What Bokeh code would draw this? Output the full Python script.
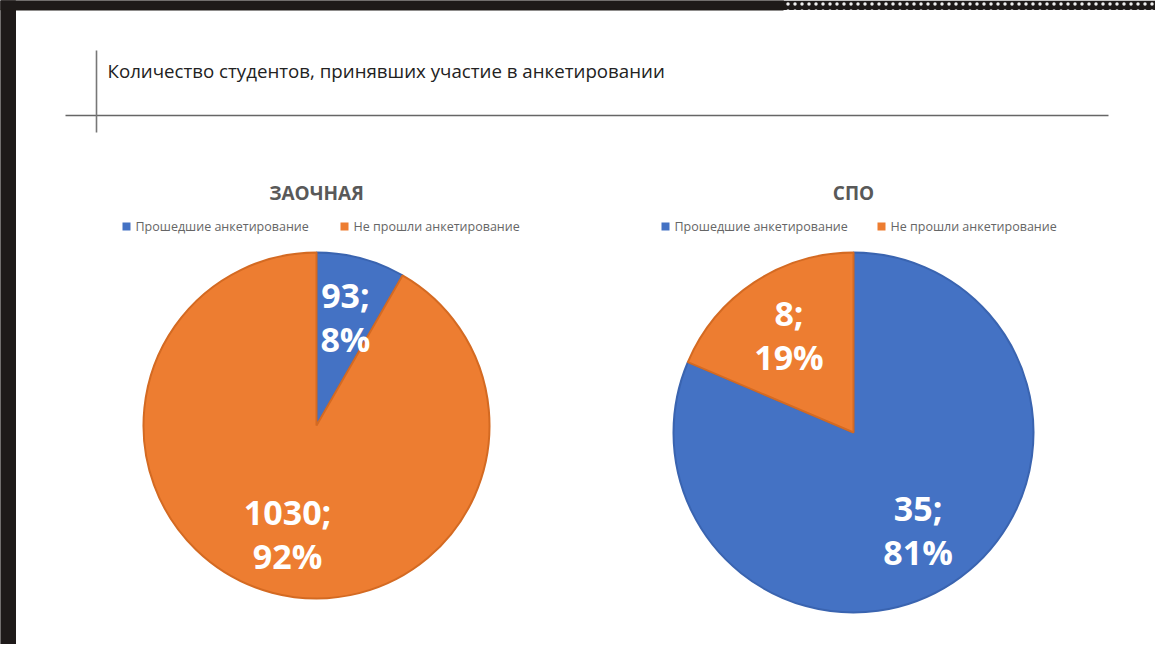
import numpy as np
from bokeh.plotting import figure
from bokeh.models import Range1d, ColumnDataSource
from bokeh.core.properties import value
from bokeh.embed import file_html
from bokeh.resources import INLINE

# ---- data ----
slide_title = "Количество студентов, принявших участие в анкетировании"
categories = ["Прошедшие анкетирование", "Не прошли анкетирование"]
chart_titles = ["ЗАОЧНАЯ", "СПО"]
zaochnaya_values = [93, 1030]
spo_values = [35, 8]
colors = ["#4472C4", "#ED7D31"]
edge_colors = ["#3A64B0", "#D46A22"]

W, H = 1155, 644
p = figure(width=W, height=H, x_range=Range1d(0, W), y_range=Range1d(0, H),
           output_backend="svg", toolbar_location=None, min_border=0)
p.axis.visible = False
p.grid.visible = False
p.outline_line_color = None
p.background_fill_color = "white"
p.border_fill_color = "white"

def Y(py):
    return H - py

# dark frame strips
p.quad(left=[0], right=[15], bottom=[Y(H)], top=[Y(0)], color="#1e1a19")
p.quad(left=[0], right=[783], bottom=[Y(9.5)], top=[Y(0)], color="#1e1a19")
p.quad(left=[783], right=[W], bottom=[Y(9.5)], top=[Y(0)], fill_color="#1e1a19",
       line_color=None, hatch_pattern="dot", hatch_color="#f0f0f0", hatch_scale=7,
       hatch_weight=3)

# slide header
p.segment(x0=[65], y0=[Y(115)], x1=[1108], y1=[Y(115)], line_color="#666666", line_width=1.6)
p.segment(x0=[96], y0=[Y(50)], x1=[96], y1=[Y(132)], line_color="#777777", line_width=1.6)
p.text(x=[107], y=[Y(70)], text=[slide_title], text_font=value("Open Sans"),
       text_font_size="18.7px", text_color="#222222", text_align="left", text_baseline="middle")

charts = [
    dict(values=zaochnaya_values, title=chart_titles[0], cx=316, cy=425, r=173,
         legend_x=[122, 340]),
    dict(values=spo_values, title=chart_titles[1], cx=853, cy=432, r=180,
         legend_x=[661, 877]),
]

for ch in charts:
    vals = np.array(ch["values"], dtype=float)
    frac = vals / vals.sum()
    cum = np.concatenate([[0], np.cumsum(frac)])
    start = np.pi / 2 - 2 * np.pi * cum[:-1]
    end = np.pi / 2 - 2 * np.pi * cum[1:]
    src = ColumnDataSource(dict(start=start, end=end, color=colors, edge=edge_colors))
    p.wedge(x=ch["cx"], y=Y(ch["cy"]), radius=ch["r"], start_angle="start", end_angle="end",
            direction="clock", fill_color="color", line_color="edge", line_width=2, source=src)
    # labels
    mid = (start + end) / 2
    d = 0.65 * ch["r"]
    lx = ch["cx"] + d * np.cos(mid)
    ly = Y(ch["cy"]) + d * np.sin(mid)
    pct = [f"{int(round(f * 100))}%" for f in frac]
    top_txt = [f"{int(v)};" for v in vals]
    p.text(x=lx, y=ly + 22, text=top_txt, text_font=value("Open Sans"), text_font_style="bold",
           text_font_size="34px", text_color="white", text_align="center", text_baseline="middle")
    p.text(x=lx, y=ly - 22, text=pct, text_font=value("Open Sans"), text_font_style="bold",
           text_font_size="34px", text_color="white", text_align="center", text_baseline="middle")
    # title
    p.text(x=[ch["cx"]], y=[Y(192)], text=[ch["title"]], text_font=value("Open Sans"),
           text_font_style="bold", text_font_size="19px", text_color="#595959",
           text_align="center", text_baseline="middle")
    # legend
    for i, cat in enumerate(categories):
        lxp = ch["legend_x"][i]
        p.rect(x=[lxp + 4], y=[Y(226)], width=8, height=8, fill_color=colors[i], line_color=None)
        p.text(x=[lxp + 13], y=[Y(226)], text=[cat], text_font=value("Open Sans"),
               text_font_size="12.5px", text_color="#666666", text_align="left",
               text_baseline="middle")

open("out.html", "w").write(file_html(p, INLINE))
